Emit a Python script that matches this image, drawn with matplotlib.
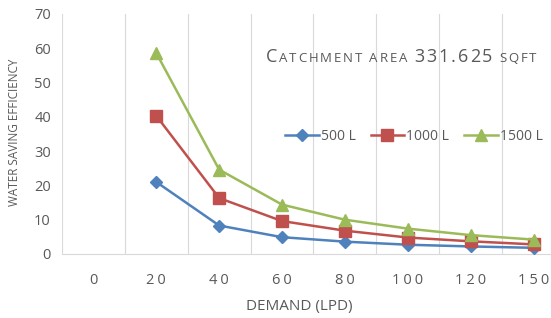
import matplotlib.pyplot as plt
from matplotlib.offsetbox import TextArea, HPacker, AnchoredOffsetbox

# data
demand = ["0", "20", "40", "60", "80", "100", "120", "150"]
tank_500 = [None, 21.0, 8.3, 4.9, 3.6, 2.7, 2.2, 1.8]
tank_1000 = [None, 40.3, 16.3, 9.6, 6.8, 4.8, 3.7, 2.8]
tank_1500 = [None, 58.6, 24.6, 14.4, 10.0, 7.4, 5.5, 4.2]

gray = "#595959"
plt.rcParams['font.family'] = ['Open Sans', 'DejaVu Sans']

fig = plt.figure(figsize=(5.51, 3.18), dpi=100)
ax = fig.add_axes([0.1125, 0.2013, 0.9129, 0.7547])

x = list(range(len(demand)))

def pts(vals):
    xs = [i for i, v in zip(x, vals) if v is not None]
    ys = [v for v in vals if v is not None]
    return xs, ys

series = [
    (tank_500, "500 L", "#4F81BD", "D", 6),
    (tank_1000, "1000 L", "#C0504D", "s", 8),
    (tank_1500, "1500 L", "#9BBB59", "^", 8),
]
for vals, lab, col, mk, ms in series:
    xs, ys = pts(vals)
    ax.plot(xs, ys, color=col, lw=1.8, marker=mk, ms=ms, label=lab, zorder=3)

# category boundary gridlines
for b in range(len(demand) + 1):
    ax.axvline(b - 0.5, color="#D9D9D9", lw=0.8, zorder=0)

ax.set_xlim(-0.5, len(demand) - 0.5)
ax.set_ylim(0, 70)
ax.set_yticks(range(0, 71, 10))
ax.set_xticks(x)
ax.set_xticklabels(["\u200a\u200a".join(d) for d in demand])
for s in ["top", "right", "left"]:
    ax.spines[s].set_visible(False)
ax.spines["bottom"].set_color("#D9D9D9")
ax.tick_params(length=0, colors=gray, labelsize=10.5)
ax.tick_params(axis="x", pad=14)
ax.tick_params(axis="y", pad=8)

fig.text(0.027, 0.585, "WATER SAVING EFFICIENCY", rotation=90, ha="center",
         va="center", color=gray, fontsize=8.5)
fig.text(0.543, 0.035, "DEMAND (LPD)", ha="center", va="center",
         color=gray, fontsize=11)

# small caps style title, letter spaced
parts = [("C", 13), ("ATCHMENT", 9.5), (" ", 9.5), ("AREA", 9.5), (" ", 9.5),
         ("331.625", 13), (" ", 9.5), ("SQFT", 9.5)]
boxes = []
for t, s in parts:
    for ch in t:
        boxes.append(TextArea(ch, textprops=dict(color=gray, fontsize=s)))
pack = HPacker(children=boxes, align="baseline", pad=0, sep=1.35)
anch = AnchoredOffsetbox(loc="center left", child=pack, frameon=False,
                         bbox_to_anchor=(0.482, 0.82), bbox_transform=fig.transFigure,
                         borderpad=0, pad=0)
fig.add_artist(anch)

ax.legend(loc="center left", bbox_to_anchor=(0.505, 0.572), bbox_transform=fig.transFigure,
          ncol=3, frameon=False, fontsize=10, labelcolor=gray,
          handlelength=2.4, handletextpad=0.15, columnspacing=1.1, borderpad=0)

fig.savefig("out.png", dpi=100)
